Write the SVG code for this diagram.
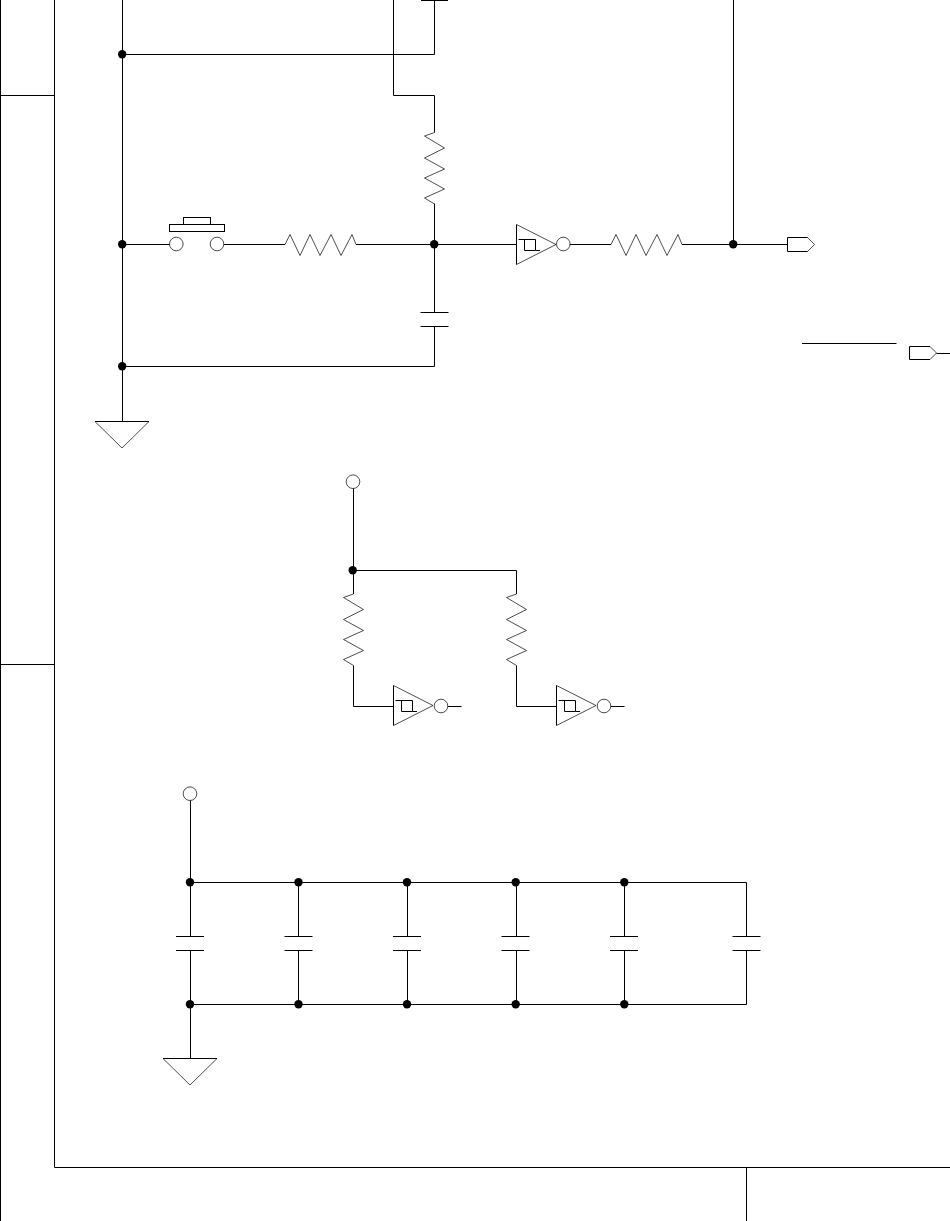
<svg xmlns="http://www.w3.org/2000/svg" width="950" height="1221" viewBox="0 0 950 1221">
<style>
.w{fill:none;stroke:#000;stroke-width:1}
.t{fill:none;stroke:#000;stroke-width:.7}
.d{fill:#000;stroke:none}
</style>
<defs>
<circle id="dot" r="4.2" class="d"/>
<circle id="ring" r="6.8" class="t"/>
<path id="rv" class="t" d="M0 0L-10 3.500L10 15.500L-10 25.500L10 36.500L-10 45.500L10 56.500L-10 65.500L0 71.500"/>
<path id="rh" class="t" d="M0 0L5 -10L15 11L25 -10L35 11L46 -10L56 11L67 -10L71 0"/>
<g id="inv">
<path class="w" d="M0 -20V20"/>
<path class="t" d="M0 -20L39.500 0L0 20"/>
<path class="w" d="M2 -5H19V6H23.500M8 -5V6H19"/>
</g>
<path id="cap" class="w" d="M-14 0H14M-14 14H14"/>
<g id="gnd"><path class="w" d="M0 0.500H54"/><path class="t" d="M0 0.500L27 27L54 0.500"/></g>
</defs>
<rect width="950" height="1221" fill="#fff"/>
<g id="frame" class="w">
<path d="M54.500 0V1167.500H950M0.500 0V1221M0 95.500H54.500M0 664.500H54.500M746.500 1167.500V1221"/>
</g>
<g id="connectors" class="w">
<path d="M122.500 0V421M122.500 54.500H434.500V0"/>
<path d="M393.500 0V95.500H434.500V132.500"/>
<path d="M434.500 203.500V312.500M434.500 326.500V366.500H122.500"/>
<path d="M122.500 244.500H169.500M224 244.500H285M356 244.500H516.500M570 244.500H611M682 244.500H787.500"/>
<path d="M733.500 0V244.500"/>
<path d="M802 343.500H896.500M936.500 353.500H950"/>
<path d="M353.500 488.500V594M353.500 570.500H516.500V594M353.500 665.500V706.500H393.500M516.500 665.500V706.500H556.500"/>
<path d="M448 706.500H461.500M611 706.500H624.500"/>
<path d="M190.500 800.500V936.500M190.500 950.500V1058.500M190.500 882.500H746.500V936.500M190.500 1004.500H746.500V950.500"/>
<path d="M298.500 882.500V936.500M298.500 950.500V1004.500M407.500 882.500V936.500M407.500 950.500V1004.500M516.500 882.500V936.500M516.500 950.500V1004.500M624.500 882.500V936.500M624.500 950.500V1004.500"/>
</g>
<g id="button"><use href="#ring" x="176.300" y="244"/><use href="#ring" x="217" y="244"/><rect class="w" x="169.500" y="224.500" width="55" height="7"/><rect class="w" x="183.500" y="217.500" width="27" height="7"/></g>
<g id="r1"><use href="#rv" x="434.500" y="132.500"/></g>
<g id="r2"><use href="#rh" x="285" y="244.500"/></g>
<g id="r3"><use href="#rh" x="611" y="244.500"/></g>
<g id="r4"><use href="#rv" x="353.500" y="594"/></g>
<g id="r5"><use href="#rv" x="516.500" y="594"/></g>
<g id="u1"><use href="#inv" x="516.500" y="244.500"/><use href="#ring" x="563.300" y="244"/></g>
<g id="u2"><use href="#inv" x="393.500" y="705.500"/><use href="#ring" x="441" y="706"/></g>
<g id="u3"><use href="#inv" x="556.500" y="705.500"/><use href="#ring" x="604" y="706"/></g>
<g id="c1"><use href="#cap" x="434.500" y="312.500"/></g>
<g id="c0"><path class="w" d="M421 0.500H448"/></g>
<g id="c2"><use href="#cap" x="190" y="936.500"/></g>
<g id="c3"><use href="#cap" x="298.500" y="936.500"/></g>
<g id="c4"><use href="#cap" x="407" y="936.500"/></g>
<g id="c5"><use href="#cap" x="515.500" y="936.500"/></g>
<g id="c6"><use href="#cap" x="624" y="936.500"/></g>
<g id="c7"><use href="#cap" x="746.500" y="936.500"/></g>
<g id="gnd1"><use href="#gnd" x="95" y="421"/></g>
<g id="gnd2"><use href="#gnd" x="163" y="1058"/></g>
<g id="tag1"><path class="w" d="M807.500 237.500H787.500V251.500H807.500"/><path class="t" d="M807.500 237.500L814.500 244.500L807.500 251.500"/></g>
<g id="tag2"><path class="w" d="M930 346.500H909.500V359.500H930"/><path class="t" d="M930 346.500L936.500 353L930 359.500"/></g>
<g id="vcc1"><use href="#ring" x="353" y="481.700"/></g>
<g id="vcc2"><use href="#ring" x="190" y="793.700"/></g>
<g id="dots">
<use href="#dot" x="122.200" y="54.200"/><use href="#dot" x="122.200" y="244.200"/><use href="#dot" x="122.200" y="366.300"/><use href="#dot" x="434.200" y="244.200"/><use href="#dot" x="733.200" y="244.200"/><use href="#dot" x="352.700" y="570.200"/>
<use href="#dot" x="190" y="882.200"/><use href="#dot" x="298.500" y="882.200"/><use href="#dot" x="407" y="882.200"/><use href="#dot" x="515.700" y="882.200"/><use href="#dot" x="624.300" y="882.200"/>
<use href="#dot" x="190" y="1004.200"/><use href="#dot" x="298.500" y="1004.200"/><use href="#dot" x="407" y="1004.200"/><use href="#dot" x="515.700" y="1004.200"/><use href="#dot" x="624.300" y="1004.200"/>
</g>
</svg>
